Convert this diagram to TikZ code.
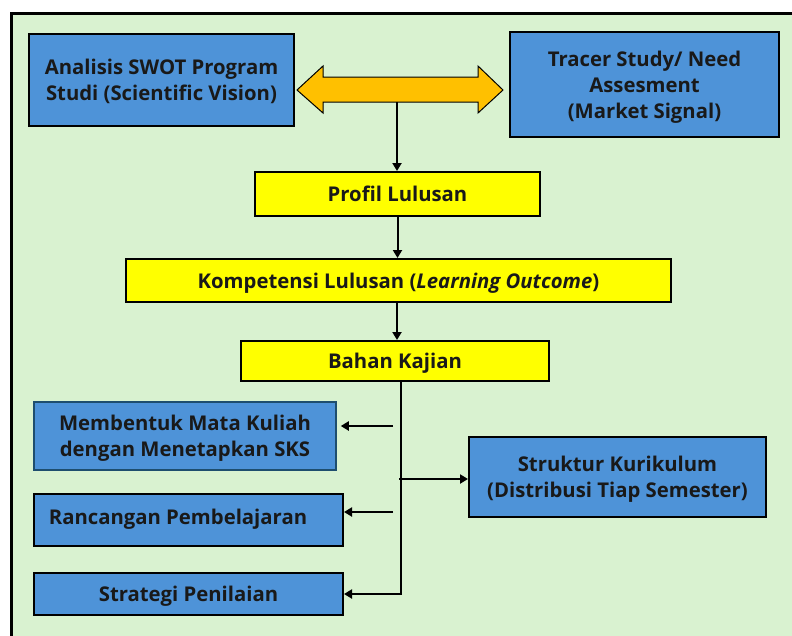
\documentclass[tikz,border=0pt]{standalone}
\usepackage{fontspec}
\setmainfont{Open Sans}
\usetikzlibrary{arrows.meta,calc}
\definecolor{bggreen}{HTML}{D9F2D0}
\definecolor{boxblue}{HTML}{4E93D8}
\definecolor{boxyellow}{HTML}{FFFF00}
\definecolor{arrorange}{HTML}{FFC000}
\definecolor{tealborder}{HTML}{1E4E6E}
\begin{document}
\begin{tikzpicture}[x=1pt,y=-1pt,
  txt/.style={font=\bfseries\fontsize{20.3}{26}\selectfont, align=center, text=black!90, text depth=0pt},
  bluebox/.style={txt, draw=black, line width=2pt, fill=boxblue, inner sep=0pt},
  yelbox/.style={txt, draw=black, line width=2pt, fill=boxyellow, inner sep=0pt},
  conn/.style={line width=2pt, -{Triangle[length=8pt,width=9pt]}},
  trunkline/.style={line width=2pt}]
\useasboundingbox (0,0) rectangle (792,635);
\fill[white] (0,0) rectangle (792,635);
\begin{scope}
\clip (0,0) rectangle (792,635);
\draw[line width=3pt, fill=bggreen] (11,13.5) rectangle (820,660);
\end{scope}

\node[bluebox, minimum width=265pt, minimum height=92pt] (swot) at (161.5,80) {Analisis SWOT Program\\Studi (Scientific Vision)};
\node[bluebox, minimum width=269pt, minimum height=105pt] (tracer) at (644.5,84.5) {Tracer Study/ Need\\Assesment\\(Market Signal)};

\coordinate (ltip) at ($(swot.east)+(2,10)$);
\coordinate (rtip) at ($(tracer.west)+(-6,5.5)$);
\filldraw[fill=arrorange, draw=black, line width=1pt]
  (ltip) -- ++(26,-24) -- ++(0,11) -- ($(rtip)+(-25,-13)$) -- ++(0,-11) -- (rtip)
  -- ++(-25,23) -- ++(0,-11) -- ($(ltip)+(26,12)$) -- ++(0,11) -- cycle;
\coordinate (dbl) at (397,102);

\node[yelbox, minimum width=285pt, minimum height=44pt] (profil) at (397.5,194) {Profil Lulusan};
\node[yelbox, minimum width=545pt, minimum height=43pt] (komp) at (398.5,280.5) {Kompetensi Lulusan (\textit{Learning Outcome})};
\node[yelbox, minimum width=308pt, minimum height=40pt] (bahan) at (395,361) {Bahan Kajian};

\node[txt, draw=tealborder, line width=1.5pt, fill=boxblue, inner sep=0pt, minimum width=302pt, minimum height=68pt] (memb) at (185,436) {Membentuk Mata Kuliah\\dengan Menetapkan SKS};
\node[bluebox, minimum width=309pt, minimum height=52pt] (ranc) at (188.5,520) {};
\node[txt] (ranctext) at (178,516.5) {Rancangan Pembelajaran};
\node[bluebox, minimum width=309pt, minimum height=42pt] (strat) at (188.5,594) {Strategi Penilaian};
\node[bluebox, minimum width=297pt, minimum height=80pt] (strukt) at (617.5,477) {Struktur Kurikulum\\(Distribusi Tiap Semester)};

\draw[conn] (dbl) -- (dbl |- profil.north);
\draw[conn] (profil.south) -- (profil.south |- komp.north);
\draw[conn] (komp.south -| dbl) -- (dbl |- bahan.north);

\coordinate (t0) at (401,381);
\draw[conn] (t0) |- (strat.east);
\coordinate (tk) at (399,479);
\draw[conn] (tk) -- (tk -| strukt.west);
\coordinate (m0) at (393,426);
\draw[conn, shorten >=4pt] (m0) -- (m0 -| memb.east);
\coordinate (r0) at (393,512);
\draw[conn] (r0) -- (r0 -| ranc.east);
\end{tikzpicture}
\end{document}
